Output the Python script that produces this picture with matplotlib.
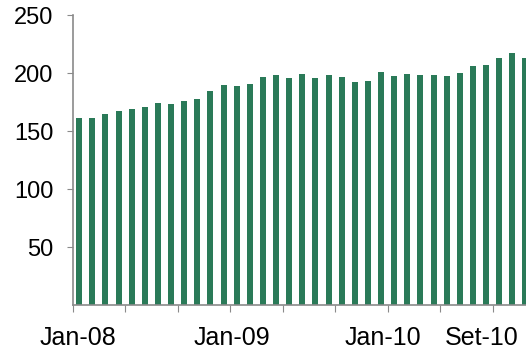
import matplotlib
matplotlib.use('Agg')
import matplotlib.pyplot as plt
import numpy as np

plt.rcParams['font.family'] = ['Liberation Sans', 'DejaVu Sans']

# monthly values, Jan-08 onwards
values = [161.5, 161.5, 165, 167.5, 168.7, 171, 174.6, 173.3, 176, 177.8,
          184.5, 190, 188.7, 191, 196.7, 198, 195.8, 199.3, 195.8, 198.1,
          197, 192.4, 193.6, 200.7, 197.3, 199.5, 198.7, 198.7, 197.5, 199.8,
          205.8, 207.3, 212.7, 217.2, 213]
label_text = ['Jan-08', 'Jan-09', 'Jan-10', 'Set-10']
label_pos = [-0.1, 11.6, 23.1, 30.7]
y_ticks = [50, 100, 150, 200, 250]

fig = plt.figure(figsize=(5.26, 3.51), dpi=100)
ax = fig.add_axes([0.138, 0.131, 0.862, 0.826])

x = np.arange(len(values))
ax.bar(x, values, width=0.46, color='#2a7a58')

ax.set_xlim(-0.5, 34.04)
ax.set_ylim(0, 250)

for side in ['top', 'right']:
    ax.spines[side].set_visible(False)
for side in ['left', 'bottom']:
    ax.spines[side].set_color('#8a8a8a')
    ax.spines[side].set_linewidth(1.2)

ax.set_yticks(y_ticks)
ax.tick_params(axis='y', length=4, color='#8a8a8a', labelsize=17, pad=10)

# tick marks every four months, labels placed separately
ax.set_xticks(np.arange(-0.5, 35, 4))
ax.set_xticklabels([])
ax.tick_params(axis='x', which='major', length=5, color='#8a8a8a')
ax.set_xticks(label_pos, minor=True)
ax.set_xticklabels(label_text, minor=True)
ax.tick_params(axis='x', which='minor', length=0, labelsize=18, pad=15)

fig.savefig('out.png', dpi=100)
